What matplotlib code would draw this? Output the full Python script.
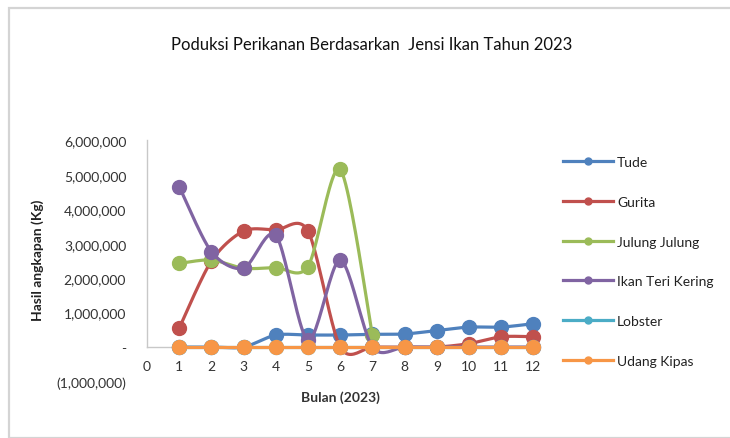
import numpy as np
import matplotlib
matplotlib.use("Agg")
import matplotlib.pyplot as plt
from matplotlib.lines import Line2D
from matplotlib.patches import Rectangle

plt.rcParams['font.family'] = ['Lato', 'DejaVu Sans']

# data
bulan = np.arange(1, 13)
tude = [0, 0, 0, 350000, 350000, 350000, 370000, 380000, 480000, 580000, 580000, 680000]
gurita = [550000, 2500000, 3370000, 3400000, 3370000, 0, 0, 0, 0, 100000, 300000, 300000]
julung = [2430000, 2530000, 2290000, 2310000, 2340000, 5160000, 350000,
          np.nan, np.nan, np.nan, np.nan, np.nan]
teri = [4660000, 2770000, 2290000, 3250000, 200000, 2530000, 0, 0, 0, 0, 0, 0]
lobster = [0] * 12
udang = [0] * 12

names = ["Tude", "Gurita", "Julung Julung", "Ikan Teri Kering", "Lobster", "Udang Kipas"]
series = [tude, gurita, julung, teri, lobster, udang]
colors = ["#4F81BD", "#C0504D", "#9BBB59", "#8064A2", "#4BACC6", "#F79646"]

yticks = [-1000000, 0, 1000000, 2000000, 3000000, 4000000, 5000000, 6000000]
ylabels = ["(1,000,000)", "-", "1,000,000", "2,000,000", "3,000,000",
           "4,000,000", "5,000,000", "6,000,000"]
xticks = list(range(0, 13))


def smooth(x, y, steps=24):
    # excel-like smoothed line (bezier through the points)
    x = np.asarray(x, float)
    y = np.asarray(y, float)
    ok = ~np.isnan(y)
    x, y = x[ok], y[ok]
    n = len(x)
    xs, ys = [], []
    t = np.linspace(0, 1, steps)
    for i in range(n - 1):
        i0 = max(i - 1, 0)
        i3 = min(i + 2, n - 1)
        p1 = np.array([x[i], y[i]])
        p2 = np.array([x[i + 1], y[i + 1]])
        c1 = p1 + (p2 - np.array([x[i0], y[i0]])) / 7
        c2 = p2 - (np.array([x[i3], y[i3]]) - p1) / 7
        b = ((1 - t) ** 3)[:, None] * p1 + (3 * (1 - t) ** 2 * t)[:, None] * c1 \
            + (3 * (1 - t) * t ** 2)[:, None] * c2 + (t ** 3)[:, None] * p2
        xs.extend(b[:, 0])
        ys.extend(b[:, 1])
    return xs, ys


fig = plt.figure(figsize=(7.3, 4.39), dpi=100)
ax = fig.add_axes([147 / 730, 1 - 382.5 / 439, (533.4 - 147) / 730, 241 / 439])

# chart border
fig.patches.append(Rectangle((9 / 730, 0), 1, 1 - 9 / 439, transform=fig.transFigure,
                             fill=False, edgecolor="#d4d4d4", linewidth=1.6))

handles = []
for k, (nm, vals, c) in enumerate(zip(names, series, colors)):
    sx, sy = smooth(bulan, vals)
    ax.plot(sx, sy, color=c, linewidth=2.3, zorder=3 + 2 * k, clip_on=False,
            solid_capstyle='round')
    ax.plot(bulan, vals, 'o', color=c, markersize=10, zorder=4 + 2 * k, clip_on=False)
    handles.append(Line2D([], [], color=c, linewidth=2.3, marker='o', markersize=5))

ax.set_xlim(0, 12)
ax.set_ylim(-1000000, 6000000)
ax.set_xticks(xticks)
ax.set_xticklabels([str(v) for v in xticks])
ax.set_yticks(yticks)
ax.set_yticklabels(ylabels)

for s in ['top', 'right']:
    ax.spines[s].set_visible(False)
ax.spines['bottom'].set_position(('data', 0))
ax.spines['bottom'].set_bounds(0, 12)
ax.spines['left'].set_bounds(0, 6000000)
for s in ['bottom', 'left']:
    ax.spines[s].set_color("#c8c8c8")
    ax.spines[s].set_linewidth(1.0)
ax.tick_params(axis='both', length=0, labelsize=10, colors="#333333")
ax.tick_params(axis='x', pad=9)
ax.tick_params(axis='y', pad=15)
ax.patch.set_alpha(0)

ax.set_xlabel("Bulan (2023)", fontsize=10, fontweight='bold', color="#333333")
ax.xaxis.set_label_coords(0.5, -0.035)
ax.set_ylabel("Hasil angkapan (Kg)", fontsize=10, fontweight='bold', color="#222222")
ax.yaxis.set_label_coords(-0.267, 0.508)

fig.text(372 / 730, 1 - 45 / 439, "Poduksi Perikanan Berdasarkan  Jensi Ikan Tahun 2023",
         ha='center', va='center', fontsize=12, color="#111111")

fig.legend(handles, names, loc='upper left', bbox_to_anchor=(563 / 730, 1 - 157 / 439),
           bbox_transform=fig.transFigure, frameon=False, fontsize=10,
           handlelength=3.6, handletextpad=0.3, labelspacing=2.0,
           borderpad=0, borderaxespad=0, labelcolor="#222222")

fig.savefig("out.png", dpi=100)
